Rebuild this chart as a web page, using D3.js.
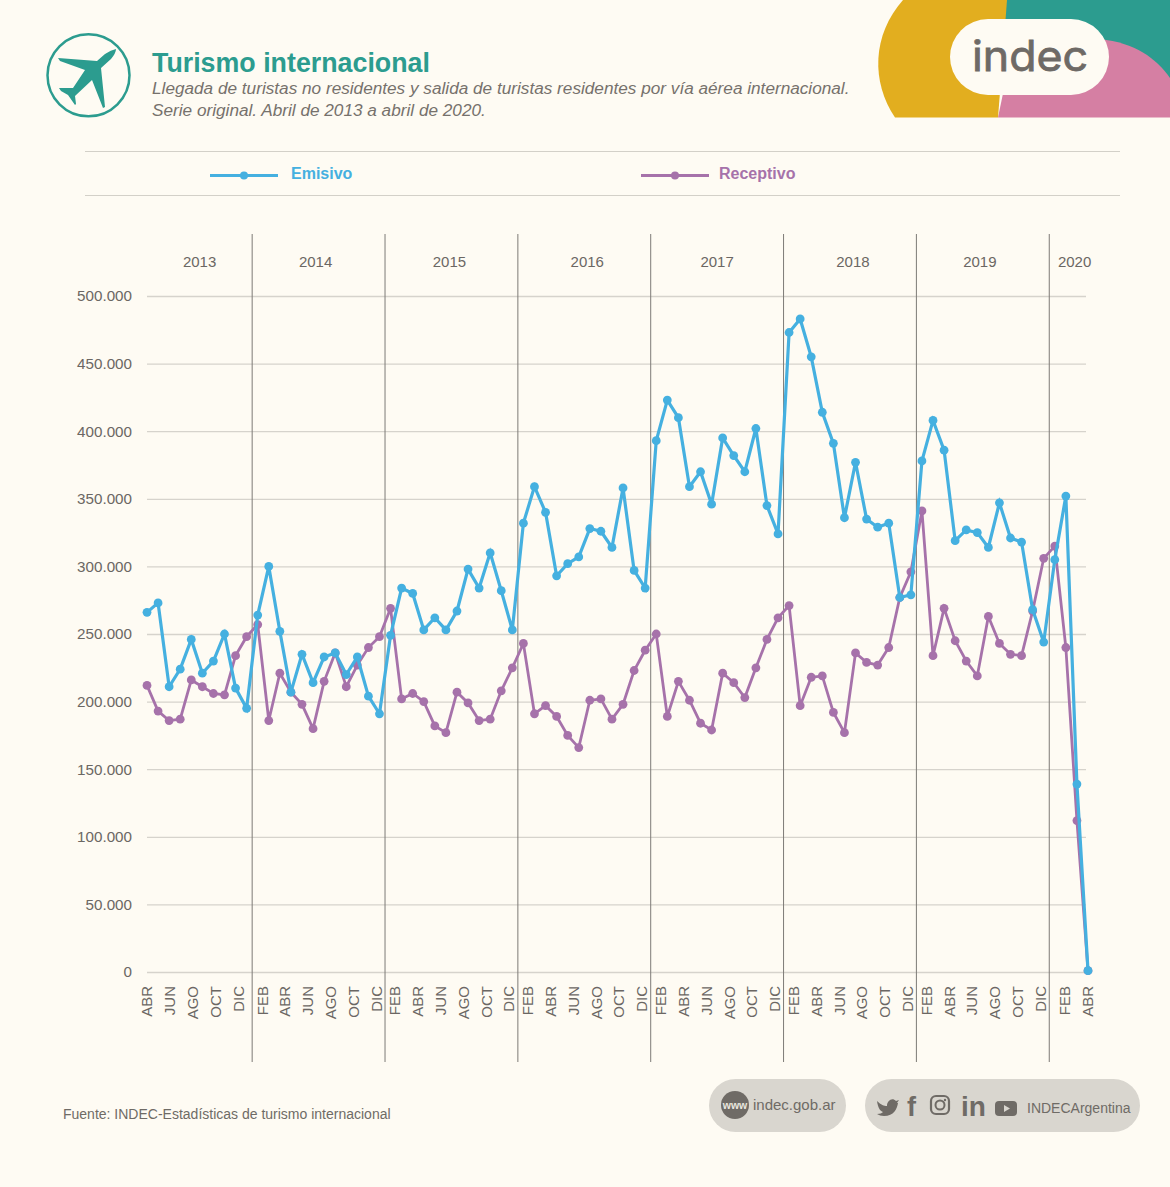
<!DOCTYPE html><meta charset="utf-8"><style>
    html, body { margin: 0; padding: 0; background: #fefbf3; }
    svg { display: block; }
    text { font-family: "Liberation Sans", sans-serif; }
    .tick line { stroke: #d6d3cc; stroke-width: 1.3; }
    .tick text { fill: #6b6763; font-size: 15.2px; }
    .mes, .anio { fill: #6b6763; font-size: 15px; }
</style><svg width="1170" height="1187"></svg><script src="https://cdn.jsdelivr.net/npm/d3@7"></script><script>

    var width = 1170, height = 1187;

    // thousands of tourists
    var emisivo = [
        266, 273, 211, 224, 246, 221, 230, 250, 210, 195,
        264, 300, 252, 207, 235, 214, 233, 236, 220, 233, 204, 191,
        249, 284, 280, 253, 262, 253, 267, 298, 284, 310, 282, 253,
        332, 359, 340, 293, 302, 307, 328, 326, 314, 358, 297, 284,
        393, 423, 410, 359, 370, 346, 395, 382, 370, 402, 345, 324,
        473, 483, 455, 414, 391, 336, 377, 335, 329, 332, 277, 279,
        378, 408, 386, 319, 327, 325, 314, 347, 321, 318, 268, 244,
        305, 352, 139, 1];

    var receptivo = [
        212, 193, 186, 187, 216, 211, 206, 205, 234, 248,
        257, 186, 221, 207, 198, 180, 215, 236, 211, 227, 240, 248,
        269, 202, 206, 200, 182, 177, 207, 199, 186, 187, 208, 225,
        243, 191, 197, 189, 175, 166, 201, 202, 187, 198, 223, 238,
        250, 189, 215, 201, 184, 179, 221, 214, 203, 225, 246, 262,
        271, 197, 218, 219, 192, 177, 236, 229, 227, 240, 277, 296,
        341, 234, 269, 245, 230, 219, 263, 243, 235, 234, 267, 306,
        315, 240, 112, 1];

    var anios = [2013, 2014, 2015, 2016, 2017, 2018, 2019, 2020];
    // index of the last point of each year but the final one
    var finAnio = [9, 21, 33, 45, 57, 69, 81];
    var mesesInicio = ["ABR", "JUN", "AGO", "OCT", "DIC"];
    var mesesAnio = ["FEB", "ABR", "JUN", "AGO", "OCT", "DIC"];
    var mesesFin = ["FEB", "ABR"];
    var yTicks = [0, 50000, 100000, 150000, 200000, 250000, 300000, 350000, 400000, 450000, 500000];

    var x = d3.scaleLinear().domain([0, emisivo.length - 1]).range([147, 1088]);
    var y = d3.scaleLinear().domain([0, 500000]).range([972, 296]);

    var es = d3.formatLocale({decimal: ",", thousands: ".", grouping: [3], currency: ["$", ""]});

    const svg = d3.select("svg").attr("viewBox", [0, 0, width, height]);

    // header
    var logo = svg.append("g");
    logo.append("path").attr("fill", "#2c9c8f")
        .attr("d", "M1000,0 H1170 V90 H1000 Z");
    logo.append("path").attr("fill", "#d57fa3")
        .attr("d", "M998,117.500 L1010,60 L1100,39 C1135,43 1156,58 1170,78 V117.500 Z");
    logo.append("path").attr("fill", "#e2ae1f")
        .attr("d", "M903,0 H1007 C1004,40 1001,80 998,117.500 H895 C871,82 872,35 903,0 Z");
    logo.append("rect").attr("x", 950).attr("y", 19).attr("width", 159).attr("height", 76).attr("rx", 38)
        .attr("fill", "#fefbf3");
    logo.append("text").attr("x", 972).attr("y", 71).attr("textLength", 116).attr("lengthAdjust", "spacingAndGlyphs")
        .attr("font-size", 42).attr("fill", "#6e6a66").attr("stroke", "#6e6a66").attr("stroke-width", 0.800)
        .style("font-family", "Inter").text("indec");

    svg.append("circle").attr("cx", 88.500).attr("cy", 75.300).attr("r", 41).attr("fill", "none")
        .attr("stroke", "#2c9c8f").attr("stroke-width", 2.500);
    svg.append("path").attr("fill", "#2c9c8f")
        .attr("d", "M116,49 Q111,50 105,54 L97,61 L58,58 L60,61 L85,70 L73,88 L59,88 L61,91 L68,95 L75,105 L76,104 L75,96 L92,80 L103,108 L105,107 L101,68 L111,59 Q116,53 116,49 Z");

    svg.append("text").attr("x", 152).attr("y", 72).attr("font-size", 26.800).attr("font-weight", "bold")
        .attr("fill", "#2c9c8f").text("Turismo internacional");
    svg.append("text").attr("x", 152).attr("y", 94).attr("font-size", 17.200).attr("font-style", "italic")
        .attr("fill", "#76716c").text("Llegada de turistas no residentes y salida de turistas residentes por vía aérea internacional.");
    svg.append("text").attr("x", 152).attr("y", 116).attr("font-size", 17.200).attr("font-style", "italic")
        .attr("fill", "#76716c").text("Serie original. Abril de 2013 a abril de 2020.");

    // legend
    svg.selectAll(".regla").data([151.500, 195.500]).join("line").attr("class", "regla")
        .attr("x1", 85).attr("x2", 1120).attr("y1", d => d).attr("y2", d => d)
        .attr("stroke", "#d3d0c8").attr("stroke-width", 1.200);

    var legend = [
        {name: "Emisivo", color: "#45b0e0", x: 210, text: 291},
        {name: "Receptivo", color: "#a672aa", x: 641, text: 719}];
    var lg = svg.selectAll(".lg").data(legend).join("g").attr("class", "lg");
    lg.append("line").attr("x1", d => d.x).attr("x2", d => d.x + 68).attr("y1", 175.500).attr("y2", 175.500)
        .attr("stroke", d => d.color).attr("stroke-width", 3);
    lg.append("circle").attr("cx", d => d.x + 34).attr("cy", 175.500).attr("r", 4).attr("fill", d => d.color);
    lg.append("text").attr("x", d => d.text).attr("y", 178.500).attr("font-size", 16).attr("font-weight", "bold")
        .attr("fill", d => d.color).text(d => d.name);

    // y axis with the gridlines
    svg.append("g")
        .attr("transform", "translate(147,0)")
        .call(d3.axisLeft(y).tickValues(yTicks).tickFormat(es.format(",d")).tickSize(-939).tickPadding(15))
        .call(g => g.select(".domain").remove());

    // year separators
    var sep = finAnio.map(i => x(i + 0.5));
    svg.selectAll(".sep").data(sep).join("line").attr("class", "sep")
        .attr("x1", d => d).attr("x2", d => d).attr("y1", 234).attr("y2", 1062)
        .attr("stroke", "#7d7a76").attr("stroke-width", 1);

    var bordes = [147].concat(sep, [1100]);
    svg.selectAll(".anio").data(anios).join("text").attr("class", "anio")
        .attr("x", (d, i) => (bordes[i] + bordes[i + 1]) / 2)
        .attr("dx", (d, i) => [0, -3, -2, 3, 0, 3, -3, 0][i])
        .attr("y", 267).attr("text-anchor", "middle").text(d => d);

    // month labels, laid out year by year
    var labels = [];
    mesesInicio.forEach((m, j) => labels.push({m: m, x: 147 + j * 23}));
    sep.slice(0, 6).forEach(s => mesesAnio.forEach((m, j) => labels.push({m: m, x: s + 10 + j * 22.8})));
    mesesFin.forEach((m, j) => labels.push({m: m, x: sep[6] + 15.500 + j * 23}));

    svg.selectAll(".mes").data(labels).join("text").attr("class", "mes")
        .attr("transform", d => `translate(${d.x},986) rotate(-90)`)
        .attr("text-anchor", "end").attr("dy", "0.36em").text(d => d.m);

    // series, purple below blue
    var line = d3.line().x((d, i) => x(i)).y(d => y(d * 1000));
    [{values: receptivo, color: "#a672aa", w: 2.800}, {values: emisivo, color: "#45b0e0", w: 3.200}].forEach(s => {
        svg.append("path").datum(s.values).attr("fill", "none").attr("stroke", s.color)
            .attr("stroke-width", s.w).attr("d", line);
        svg.append("g").selectAll("circle").data(s.values).join("circle")
            .attr("cx", (d, i) => x(i)).attr("cy", d => y(d * 1000)).attr("r", 4.400).attr("fill", s.color);
    });

    // footer
    svg.append("text").attr("x", 63).attr("y", 1119).attr("font-size", 14).attr("fill", "#6f6b66")
        .text("Fuente: INDEC-Estadísticas de turismo internacional");

    svg.append("rect").attr("x", 709).attr("y", 1079).attr("width", 137).attr("height", 53).attr("rx", 26.500).attr("fill", "#d9d6cf");
    svg.append("rect").attr("x", 865).attr("y", 1079).attr("width", 275).attr("height", 53).attr("rx", 26.500).attr("fill", "#d9d6cf");
    svg.append("circle").attr("cx", 735).attr("cy", 1105).attr("r", 14).attr("fill", "#6f6b66");
    svg.append("text").attr("x", 735).attr("y", 1109).attr("text-anchor", "middle").attr("font-size", 10.500)
        .attr("font-weight", "bold").attr("fill", "#e9e6df").text("www");
    svg.append("text").attr("x", 753).attr("y", 1110).attr("font-size", 15).attr("fill", "#6f6b66").text("indec.gob.ar");
    svg.append("text").attr("x", 1027).attr("y", 1113).attr("font-size", 14).attr("fill", "#6f6b66").text("INDECArgentina");

    var ic = svg.append("g").attr("fill", "#6f6b66");
    // twitter bird
    ic.append("path").attr("d", "M877,1101 C881,1105 884,1106 887,1106 C887,1101 892,1097 896,1101 L899,1100 L897,1103 L898,1103 C897,1109 894,1116 884,1116 C881,1116 879,1115 877,1114 C880,1114 882,1113 883,1112 C880,1111 878,1108 877,1101 Z");
    // facebook
    ic.append("text").attr("x", 907).attr("y", 1116).attr("font-size", 27).attr("font-weight", "bold").text("f");
    // instagram
    ic.append("rect").attr("x", 931).attr("y", 1096).attr("width", 18).attr("height", 18).attr("rx", 5)
        .attr("fill", "none").attr("stroke", "#6f6b66").attr("stroke-width", 2.200);
    ic.append("circle").attr("cx", 940).attr("cy", 1105).attr("r", 4.500)
        .attr("fill", "none").attr("stroke", "#6f6b66").attr("stroke-width", 2);
    ic.append("circle").attr("cx", 945).attr("cy", 1100).attr("r", 1.200);
    // linkedin
    ic.append("text").attr("x", 961).attr("y", 1116).attr("font-size", 28).attr("font-weight", "bold").text("in");
    // youtube
    ic.append("rect").attr("x", 995).attr("y", 1101).attr("width", 22).attr("height", 15).attr("rx", 4);
    ic.append("path").attr("d", "M1004,1105 L1010,1108.500 L1004,1112 Z").attr("fill", "#d9d6cf");

</script>
